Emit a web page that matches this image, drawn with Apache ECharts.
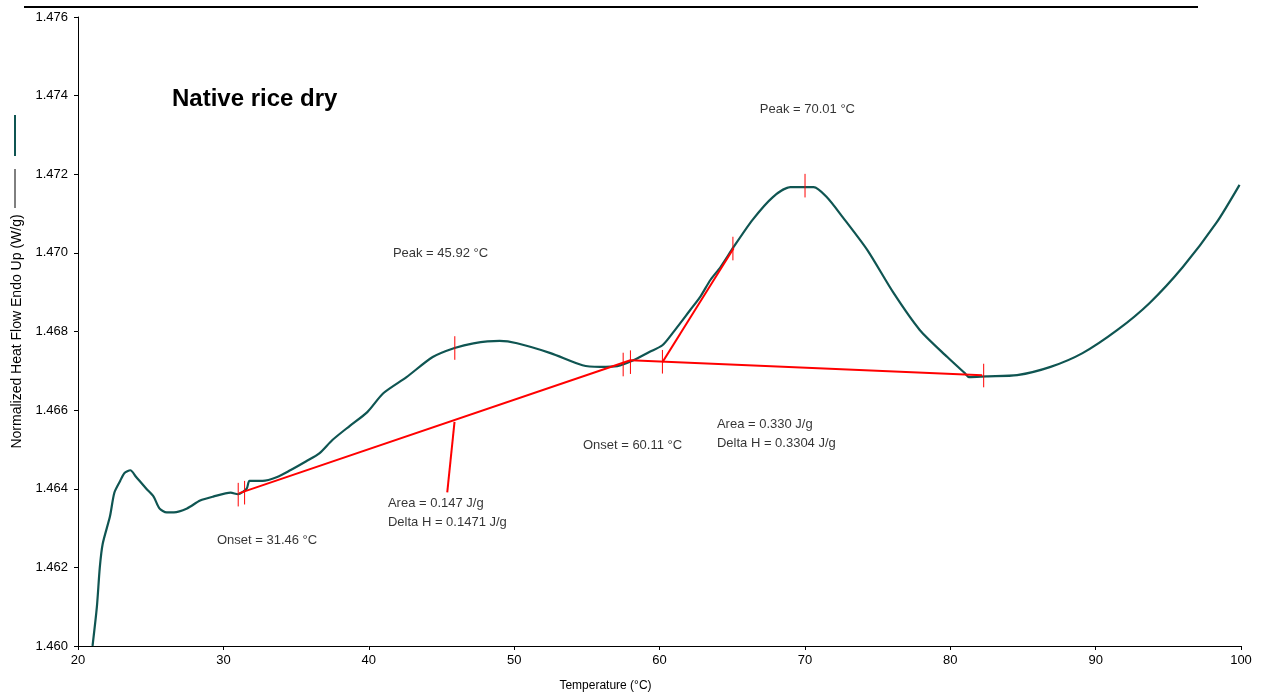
<!DOCTYPE html>
<html>
<head>
    <meta charset="UTF-8">
    <script type="text/javascript" src="https://cdn.jsdelivr.net/npm/echarts@6/dist/echarts.min.js"></script>
</head>
<body style="margin: 0;padding: 0;background: #fff;">
<div id="main" style="width: 1264px;height:695px;"></div>
<script>
    // DSC trace (temperature, heat flow)
    var curveX = [21.0, 21.3, 21.5, 21.7, 22.2, 22.5, 22.9, 23.2, 23.6, 24.0, 24.7, 25.2, 25.6, 26.1, 26.6, 27.5,
        28.4, 29.3, 30.5, 31.0, 31.6, 31.8, 32.7, 33.7, 34.6, 35.7, 36.6, 37.5, 38.7, 39.9, 41.0, 42.6, 44.4, 45.9,
        47.2, 49.0, 50.2, 52.5, 54.7, 55.9, 57.1, 58.2, 59.3, 60.2, 60.9, 62.1, 62.8, 63.5, 64.2, 65.1, 66.4, 67.8,
        69.0, 70.6, 71.5, 72.6, 74.3, 76.1, 77.9, 79.8, 81.0, 81.3, 82.5, 84.6, 86.9, 89.1, 91.5, 93.7, 96.0, 98.3, 99.9]
    var curveY = [1.4600, 1.4610, 1.4620, 1.4626, 1.4633, 1.4639, 1.4642, 1.4644, 1.46447, 1.4643, 1.4640, 1.4638,
        1.4635, 1.4634, 1.4634, 1.4635, 1.4637, 1.4638, 1.4639, 1.46386, 1.4640, 1.4642, 1.4642, 1.4643, 1.46447,
        1.4647, 1.4649, 1.46524, 1.4656, 1.46595, 1.46643, 1.46684, 1.46735, 1.46758, 1.4677, 1.46776, 1.4677,
        1.46745, 1.46714, 1.4671, 1.46712, 1.46727, 1.46748, 1.46765, 1.46796, 1.46854, 1.46888, 1.46931, 1.46964,
        1.47015, 1.47084, 1.47142, 1.47167, 1.47167, 1.47142, 1.47091, 1.47007, 1.46898, 1.46804, 1.46735, 1.46694,
        1.46684, 1.46686, 1.46689, 1.4671, 1.46745, 1.46804, 1.46872, 1.46964, 1.47076, 1.47173]

    // analysis lines (red)
    var base1X = [31.1, 58.0]
    var base1Y = [1.46389, 1.46727]
    var base2X = [58.0, 82.2]
    var base2Y = [1.46727, 1.46689]
    var dropX = [45.9, 45.4]
    var dropY = [1.46570, 1.46391]
    var tangentX = [60.2, 65.1]
    var tangentY = [1.46722, 1.47012]

    // small red cursor marks
    var markX = [31.02, 31.46, 45.92, 57.5, 58.0, 60.2, 65.05, 70.01, 82.3]
    var markY = [1.46385, 1.4639, 1.46758, 1.46716, 1.46722, 1.46723, 1.47011, 1.47171, 1.46688]

    // annotation text (left edge, middle)
    var noteX = [41.66, 66.9, 29.56, 41.32, 41.32, 54.73, 63.95, 63.95]
    var noteY = [1.46999, 1.47366, 1.46269, 1.46363, 1.46315, 1.46511, 1.46564, 1.46516]
    var noteText = ['Peak = 45.92 °C', 'Peak = 70.01 °C', 'Onset = 31.46 °C', 'Area = 0.147 J/g',
        'Delta H = 0.1471 J/g', 'Onset = 60.11 °C', 'Area = 0.330 J/g', 'Delta H = 0.3304 J/g']

    var xTicks = [20, 30, 40, 50, 60, 70, 80, 90, 100]
    var yTicks = ['1.460', '1.462', '1.464', '1.466', '1.468', '1.470', '1.472', '1.474', '1.476']

    function pairs(xs, ys) {
        return xs.map(function (x, i) { return [x, ys[i]] })
    }

    var markData = []
    for (var i = 0; i < markX.length; i++) {
        markData.push([markX[i], markY[i] - 0.0003])
        markData.push([markX[i], markY[i] + 0.0003])
        markData.push(null)
    }

    var font = 'Liberation Sans, Arial, sans-serif'
    var red = '#ff0000'
    var teal = '#0f5552'

    function redLine(data, w) {
        return {
            type: 'line', data: data, symbol: 'none', silent: true, connectNulls: false,
            lineStyle: {color: red, width: w}, z: 3
        }
    }

    var chart = echarts.init(document.getElementById('main'))
    var option = {
        backgroundColor: '#fff',
        animation: false,
        textStyle: {fontFamily: font},
        title: {
            text: 'Native rice dry', left: 167, top: 82,
            textStyle: {fontSize: 24, fontWeight: 'bold', color: '#000', fontFamily: font}
        },
        grid: {left: 78, right: 23, top: 17, bottom: 49, containLabel: false, outerBoundsMode: 'none'},
        xAxis: {
            type: 'value', min: xTicks[0], max: xTicks[xTicks.length - 1], interval: 10,
            name: 'Temperature (°C)', nameLocation: 'middle', nameGap: 34,
            nameTextStyle: {fontSize: 12, color: '#000', padding: [0, 108, 0, 0]},
            axisLine: {lineStyle: {color: '#000', width: 1}},
            axisTick: {inside: false, length: 4, lineStyle: {color: '#000'}},
            axisLabel: {fontSize: 13, color: '#000', margin: 8},
            splitLine: {show: false}
        },
        yAxis: {
            type: 'value', min: 1.460, max: 1.476, interval: 0.002,
            name: 'Normalized Heat Flow Endo Up (W/g)', nameLocation: 'middle', nameGap: 53,
            nameTextStyle: {fontSize: 14, color: '#000'},
            axisLine: {show: true, lineStyle: {color: '#000', width: 1}},
            axisTick: {show: true, inside: false, length: 4, lineStyle: {color: '#000'}},
            axisLabel: {
                fontSize: 13, color: '#000', margin: 10,
                formatter: function (v) { return yTicks[Math.round((v - 1.460) / 0.002)] || v.toFixed(3) }
            },
            splitLine: {show: false}
        },
        graphic: [
            {type: 'line', shape: {x1: 24, y1: 7, x2: 1198, y2: 7}, style: {stroke: '#000', lineWidth: 2}},
            {type: 'line', shape: {x1: 15, y1: 115, x2: 15, y2: 156}, style: {stroke: teal, lineWidth: 2}},
            {type: 'line', shape: {x1: 15, y1: 169, x2: 15, y2: 208}, style: {stroke: '#000', lineWidth: 1}}
        ],
        series: [
            {
                type: 'line', data: pairs(curveX, curveY), symbol: 'none', silent: true, smooth: 0.25,
                lineStyle: {color: teal, width: 2.2}, z: 2
            },
            redLine(pairs(base1X, base1Y), 2),
            redLine(pairs(base2X, base2Y), 2),
            redLine(pairs(dropX, dropY), 2),
            redLine(pairs(tangentX, tangentY), 2),
            redLine(markData, 1),
            {
                type: 'scatter', symbolSize: 0, silent: true,
                data: noteX.map(function (x, i) { return {value: [x, noteY[i]], name: noteText[i]} }),
                label: {
                    show: true, position: 'right', distance: 0, formatter: '{b}',
                    fontSize: 13, color: '#000', fontFamily: font
                }
            }
        ]
    }
    chart.setOption(option)
</script>
</body>
</html>
